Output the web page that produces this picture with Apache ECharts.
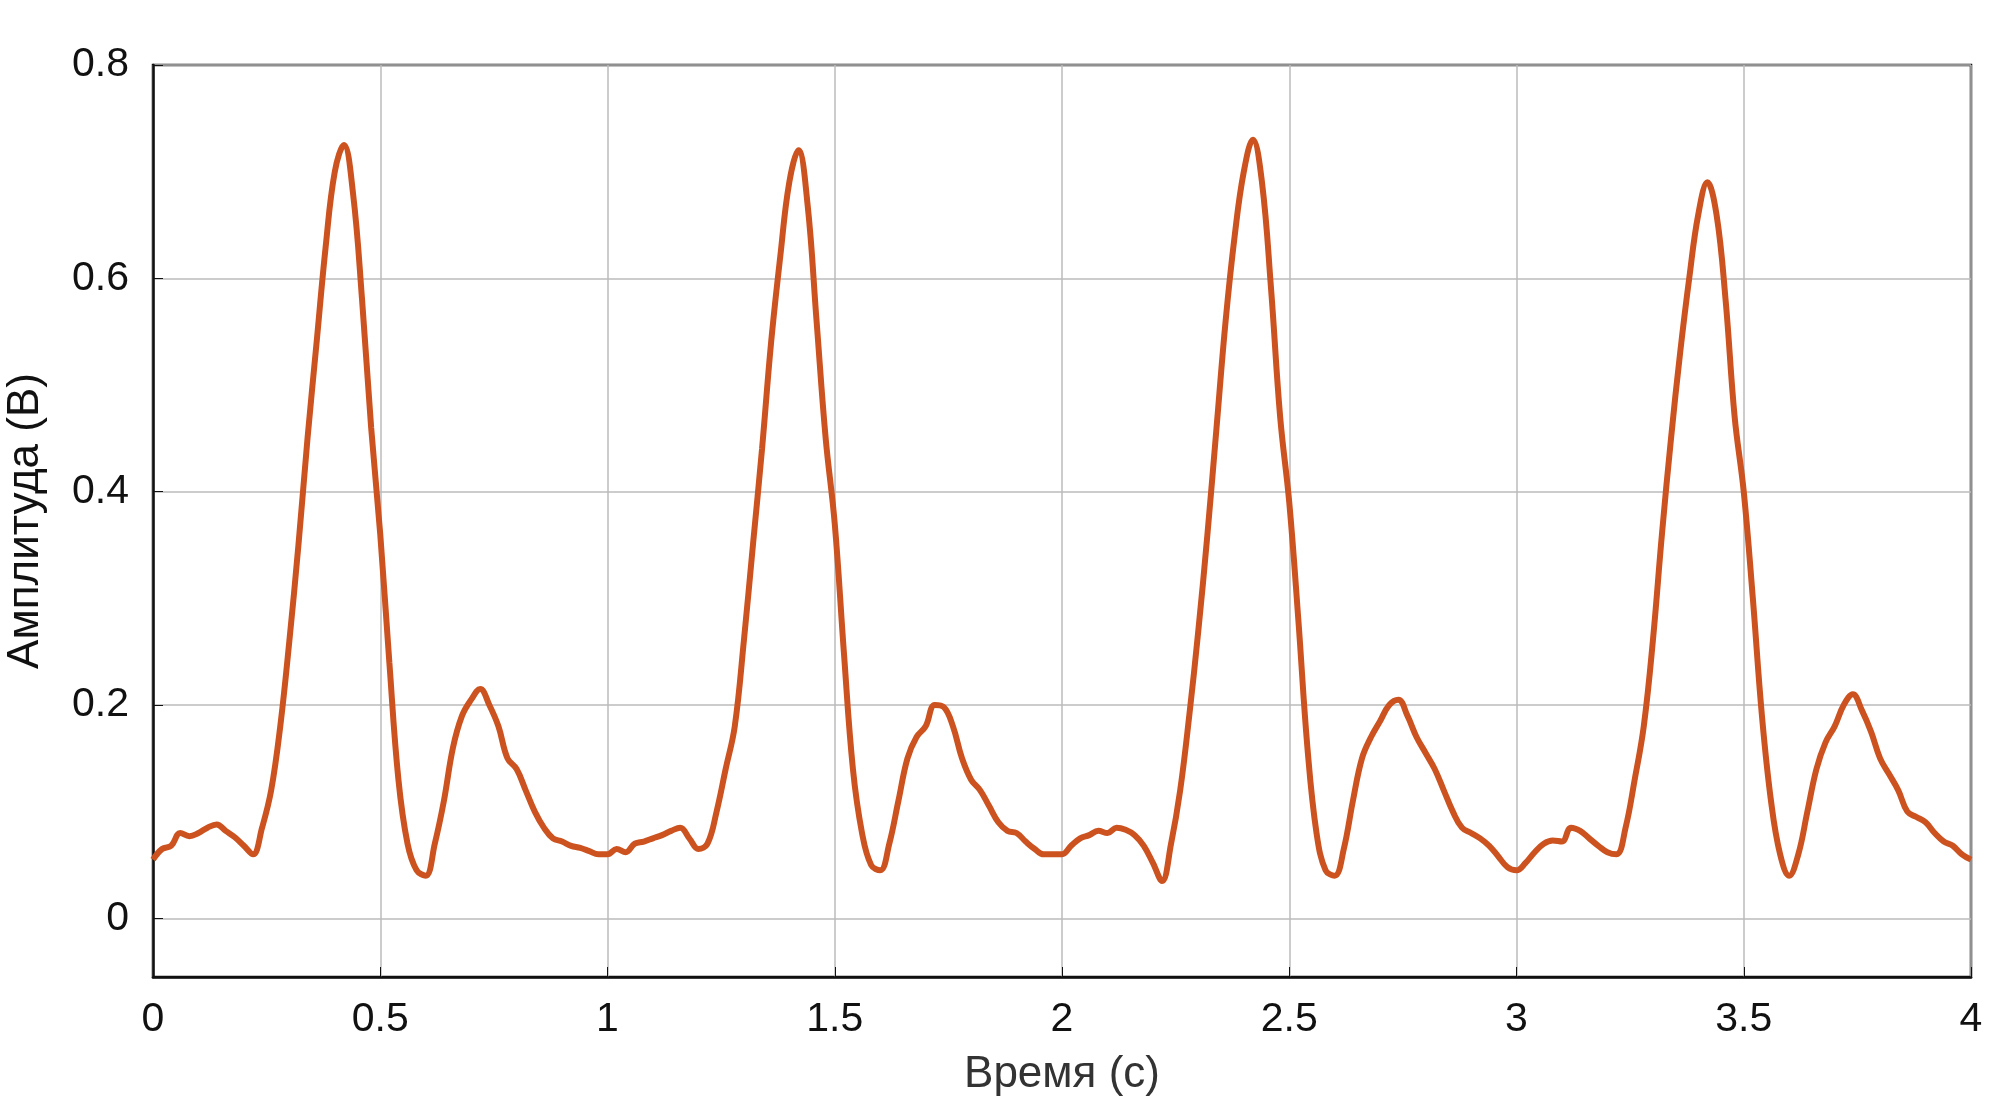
<!DOCTYPE html>
<html><head><meta charset="utf-8">
<script src="https://cdn.jsdelivr.net/npm/echarts@6/dist/echarts.min.js"></script>
<style>html,body{margin:0;background:#fff}#c{width:2000px;height:1116px}</style>
</head><body><div id="c"></div>
<script>
const xStep = 0.02;
const amplitude = [
0.055,0.065,0.068,0.080,0.077,0.080,0.085,0.088,0.082,0.076,0.068,0.060,0.085,0.12,0.18,0.26,0.35,0.45,0.54,0.63,0.70,0.725,0.68,0.58,0.46,0.36,0.24,0.13,0.07,0.045,0.04,0.07,0.11,0.16,0.19,0.205,0.215,0.20,0.18,0.15,0.14,0.12,0.10,0.085,0.075,0.072,0.068,0.066,0.063,0.060,
0.060,0.065,0.062,0.07,0.072,0.075,0.078,0.082,0.085,0.075,0.065,0.07,0.10,0.14,0.18,0.26,0.35,0.44,0.54,0.62,0.69,0.72,0.67,0.56,0.45,0.37,0.25,0.14,0.08,0.05,0.045,0.07,0.11,0.15,0.17,0.18,0.20,0.198,0.18,0.15,0.13,0.12,0.105,0.09,0.082,0.08,0.072,0.065,0.060,0.060,
0.060,0.068,0.075,0.078,0.082,0.080,0.085,0.083,0.078,0.068,0.052,0.035,0.07,0.12,0.19,0.27,0.36,0.46,0.56,0.64,0.70,0.73,0.69,0.59,0.47,0.39,0.28,0.16,0.08,0.045,0.04,0.065,0.11,0.15,0.17,0.185,0.20,0.205,0.19,0.17,0.155,0.14,0.12,0.10,0.085,0.08,0.075,0.068,0.058,0.048,
0.045,0.052,0.062,0.07,0.073,0.072,0.085,0.082,0.075,0.068,0.062,0.06,0.085,0.13,0.18,0.26,0.36,0.45,0.53,0.60,0.66,0.69,0.66,0.58,0.47,0.40,0.30,0.19,0.11,0.06,0.04,0.06,0.10,0.14,0.165,0.18,0.20,0.21,0.195,0.175,0.15,0.135,0.12,0.10,0.095,0.09,0.08,0.072,0.068,0.06,
0.055];
const xTicks = ['0','0.5','1','1.5','2','2.5','3','3.5','4'];
const yTicks = ['0','0.2','0.4','0.6','0.8'];
const data = amplitude.map((v,i)=>[+(i*xStep).toFixed(2), v]);
const chart = echarts.init(document.getElementById('c'));
const font = {fontFamily:'Liberation Sans, Arial', fontSize:41, color:'#111'};
chart.setOption({
  animation:false,
  grid:{left:153,right:29,top:65,bottom:139,outerBoundsMode:'none',containLabel:false,show:true,borderColor:'#111',borderWidth:2.5,backgroundColor:'#fff'},
  xAxis:{type:'value',min:0,max:4,interval:0.5,
    name:'Время (с)',nameLocation:'middle',nameGap:76,nameTextStyle:{...font,fontSize:44,color:'#333'},
    axisLine:{show:true,onZero:false,lineStyle:{color:'#111',width:2.5}},
    axisTick:{show:true,inside:true,length:10,lineStyle:{color:'#111'}},
    axisLabel:{...font,margin:22,formatter:v=>xTicks[Math.round(v*2)]??''},
    splitLine:{show:true,lineStyle:{color:'#bbb',width:1.5}}},
  yAxis:{type:'value',min:-0.055,max:0.8,
    name:'Амплитуда (В)',nameLocation:'middle',nameGap:105,nameTextStyle:{...font,fontSize:44},
    axisLine:{show:true,onZero:false,lineStyle:{color:'#111',width:2.5}},
    axisTick:{show:true,inside:true,length:10,lineStyle:{color:'#111'},customValues:[0,0.2,0.4,0.6,0.8]},
    axisLabel:{...font,margin:24,customValues:[0,0.2,0.4,0.6,0.8],formatter:v=>yTicks[Math.round(v*5)]??''},
    splitLine:{show:true,lineStyle:{color:'#bbb',width:1.5}}},
  series:[{type:'line',data:data,smooth:0.4,showSymbol:false,
    lineStyle:{color:'#cc5220',width:6}}]
});
</script></body></html>
